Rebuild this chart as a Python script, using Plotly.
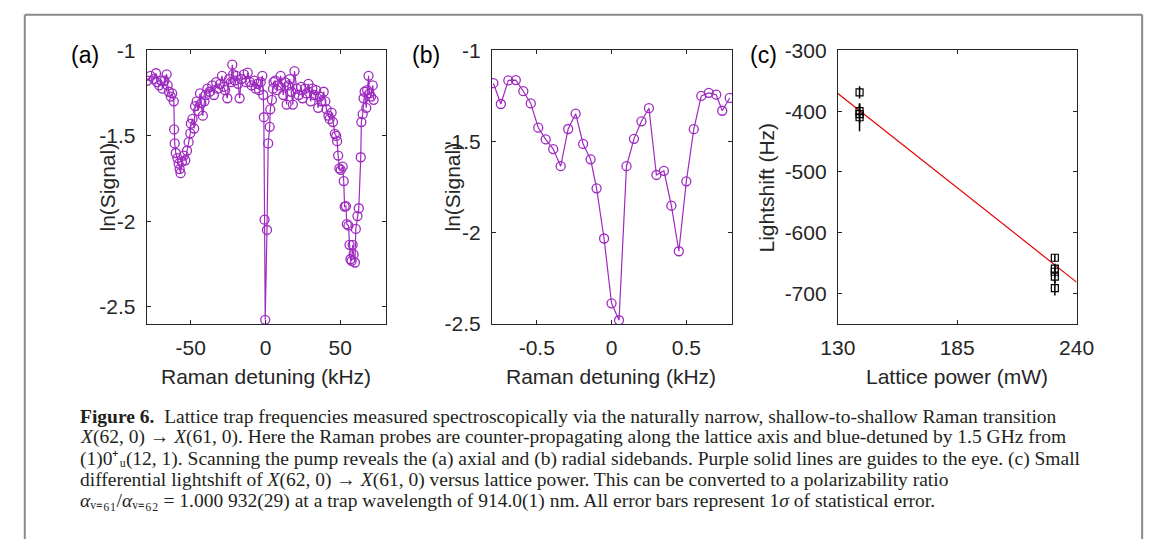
import plotly.graph_objects as go

# ---------------- data ----------------
# panel (a): axial sideband scan
a_detuning_khz = [-79.0, -76.9, -74.7, -73.2, -72.5, -71.0, -69.7, -68.9, -67.6, -66.1,
                  -65.4, -64.6, -63.3, -62.4, -61.3, -61.1, -60.7, -60.0, -58.9, -58.1,
                  -57.4, -56.8, -55.9, -54.6, -53.6, -52.5, -51.4, -50.3, -49.9, -48.8,
                  -47.7, -47.1, -46.0, -45.1, -43.8, -42.9, -41.9, -40.8, -40.0, -38.9,
                  -37.4, -35.6, -34.5, -33.0, -31.7, -30.2, -29.1, -28.0, -27.0, -25.5,
                  -24.4, -23.1, -22.2, -21.6, -20.5, -19.4, -18.3, -17.3, -16.2, -14.4,
                  -13.0, -11.9, -10.4, -9.3, -7.6, -6.5, -5.4, -4.3, -3.2, -2.1,
                  -1.5, -1.1, -0.6, -0.2, 1.0, 1.8, 2.8, 3.2, 4.3, 5.0,
                  5.4, 6.5, 7.6, 8.6, 10.1, 11.9, 13.0, 14.1, 15.1, 16.2,
                  17.3, 18.3, 19.4, 20.9, 22.2, 23.8, 24.8, 26.4, 27.4, 28.7,
                  30.2, 31.3, 32.4, 33.9, 35.2, 36.3, 37.4, 38.9, 40.0, 40.8,
                  42.1, 42.9, 44.2, 45.1, 46.4, 47.3, 47.9, 48.6, 49.4, 50.3,
                  51.6, 52.3, 52.9, 53.8, 54.4, 55.5, 56.2, 56.8, 57.6, 58.3,
                  58.9, 59.8, 60.4, 61.5, 62.4, 63.7, 64.1, 65.0, 65.6, 66.3,
                  67.4, 68.0, 68.9, 69.5, 70.6, 71.7, 72.3]
a_ln_signal = [-1.177, -1.149, -1.168, -1.134, -1.186, -1.205, -1.177, -1.224, -1.177, -1.140,
               -1.205, -1.242, -1.270, -1.252, -1.298, -1.462, -1.544, -1.600, -1.630, -1.662,
               -1.694, -1.718, -1.652, -1.615, -1.643, -1.587, -1.537, -1.485, -1.429, -1.401,
               -1.457, -1.326, -1.298, -1.354, -1.252, -1.308, -1.382, -1.298, -1.261, -1.224,
               -1.242, -1.205, -1.261, -1.186, -1.224, -1.196, -1.149, -1.214, -1.233, -1.280,
               -1.168, -1.186, -1.084, -1.140, -1.177, -1.149, -1.196, -1.280, -1.168, -1.140,
               -1.186, -1.130, -1.186, -1.205, -1.177, -1.224, -1.196, -1.233, -1.186, -1.149,
               -1.261, -1.391, -1.990, -2.575, -2.050, -1.544, -1.447, -1.345, -1.289, -1.224,
               -1.186, -1.177, -1.233, -1.205, -1.149, -1.261, -1.186, -1.317, -1.205, -1.168,
               -1.242, -1.317, -1.121, -1.224, -1.261, -1.214, -1.280, -1.224, -1.252, -1.196,
               -1.298, -1.224, -1.261, -1.233, -1.336, -1.270, -1.298, -1.242, -1.298, -1.345,
               -1.382, -1.401, -1.364, -1.419, -1.488, -1.500, -1.531, -1.615, -1.690, -1.699,
               -1.680, -1.764, -1.913, -1.910, -2.016, -2.025, -2.137, -2.221, -2.230, -2.137,
               -2.193, -2.240, -2.044, -1.969, -1.923, -1.625, -1.419, -1.373, -1.280, -1.242,
               -1.336, -1.233, -1.149, -1.252, -1.270, -1.205, -1.289]
a_x_ticks = [-50, 0, 50]
a_x_labels = ["-50", "0", "50"]

# panel (b): radial sideband scan
b_detuning_khz = [-0.79, -0.74, -0.69, -0.64, -0.59, -0.54, -0.49, -0.44, -0.39, -0.34,
                  -0.29, -0.24, -0.19, -0.14, -0.10, -0.05, 0.00, 0.05, 0.10, 0.15,
                  0.20, 0.25, 0.30, 0.35, 0.40, 0.45, 0.50, 0.55, 0.60, 0.65,
                  0.70, 0.74, 0.79]
b_ln_signal = [-1.180, -1.294, -1.165, -1.163, -1.224, -1.291, -1.424, -1.488, -1.541, -1.635,
               -1.431, -1.347, -1.513, -1.597, -1.756, -2.031, -2.386, -2.479, -1.635, -1.485,
               -1.389, -1.317, -1.683, -1.660, -1.851, -2.101, -1.718, -1.432, -1.250, -1.233,
               -1.243, -1.331, -1.261]
b_x_ticks = [-0.5, 0, 0.5]
b_x_labels = ["-0.5", "0", "0.5"]
ln_y_ticks = [-1, -1.5, -2, -2.5]
ln_y_labels = ["-1", "-1.5", "-2", "-2.5"]

# panel (c): lightshift vs lattice power
c_power_mw = [140, 140, 140, 140, 230, 230, 230, 230, 230]
c_shift_hz = [-369, -400, -405, -410, -641, -659, -664, -672, -691]
c_shift_err = [10, 12, 15, 23, 6, 8, 10, 10, 12]
c_fit_power = [130, 240]
c_fit_shift = [-371, -681]
c_x_ticks = [130, 185, 240]
c_x_labels = ["130", "185", "240"]
c_y_ticks = [-300, -400, -500, -600, -700]
c_y_labels = ["-300", "-400", "-500", "-600", "-700"]

# ---------------- layout helpers ----------------
W, H = 1165, 550
def fx(px):
    return px / W
def fy(py):
    return 1 - py / H

PURPLE = "rgb(158,42,192)"
AXC = "#262626"
SANS = "Liberation Sans, Arial, sans-serif"
TICKFONT = dict(family=SANS, size=21, color=AXC)

fig = go.Figure()

fig.add_trace(go.Scatter(x=a_detuning_khz, y=a_ln_signal, mode="lines+markers",
                         line=dict(color=PURPLE, width=1.2),
                         marker=dict(symbol="circle-open", size=9, color=PURPLE, line=dict(width=1.3)),
                         xaxis="x", yaxis="y", showlegend=False))
fig.add_trace(go.Scatter(x=b_detuning_khz, y=b_ln_signal, mode="lines+markers",
                         line=dict(color=PURPLE, width=1.2),
                         marker=dict(symbol="circle-open", size=9, color=PURPLE, line=dict(width=1.3)),
                         xaxis="x2", yaxis="y2", showlegend=False))
fig.add_trace(go.Scatter(x=c_fit_power, y=c_fit_shift, mode="lines",
                         line=dict(color="rgb(230,0,0)", width=1.2),
                         xaxis="x3", yaxis="y3", showlegend=False))
fig.add_trace(go.Scatter(x=c_power_mw, y=c_shift_hz, mode="markers",
                         error_y=dict(type="data", array=c_shift_err, color="black", thickness=1.5, width=0),
                         marker=dict(symbol="square-open", size=7, color="black", line=dict(width=1.2)),
                         xaxis="x3", yaxis="y3", showlegend=False))

def xax(domain, rng, ticks, labels, anchor):
    return dict(domain=domain, range=rng, tickvals=ticks, ticktext=labels, anchor=anchor,
                showline=True, linecolor=AXC, linewidth=1, mirror="ticks",
                ticks="inside", ticklen=4, tickcolor=AXC, tickwidth=1,
                showgrid=False, zeroline=False, tickfont=TICKFONT,
                ticklabelstandoff=5, fixedrange=True)

def yax(domain, rng, ticks, labels, anchor):
    return dict(domain=domain, range=rng, tickvals=ticks, ticktext=labels, anchor=anchor,
                showline=True, linecolor=AXC, linewidth=1, mirror="ticks",
                ticks="inside", ticklen=4, tickcolor=AXC, tickwidth=1,
                showgrid=False, zeroline=False, tickfont=TICKFONT,
                ticklabelstandoff=6, fixedrange=True)

ydom = [fy(325.7), fy(40)]
fig.update_layout(
    width=W, height=H, margin=dict(l=0, r=0, t=0, b=0), autosize=False,
    paper_bgcolor="white", plot_bgcolor="white",
    xaxis=xax([fx(132.7), fx(379.3)], [-79.5, 80.3], a_x_ticks, a_x_labels, "y"),
    yaxis=yax(ydom, [-2.6, -1], ln_y_ticks, ln_y_labels, "x"),
    xaxis2=xax([fx(489), fx(736.7)], [-0.8, 0.805], b_x_ticks, b_x_labels, "y2"),
    yaxis2=yax(ydom, [-2.5, -1], ln_y_ticks, ln_y_labels, "x2"),
    xaxis3=xax([fx(846), fx(1092.3)], [130, 240], c_x_ticks, c_x_labels, "y3"),
    yaxis3=yax(ydom, [-750, -300], c_y_ticks, c_y_labels, "x3"),
)

ann = []
def A(text, x, y, size=21, angle=0, xanchor="center", family=SANS, color=AXC):
    ann.append(dict(text=text, x=fx(x), y=fy(y), xref="paper", yref="paper", showarrow=False,
                    xanchor=xanchor, yanchor="middle", textangle=angle,
                    font=dict(family=family, size=size, color=color)))

A("(a)", 69, 45, size=23, color="black")
A("(b)", 421, 45, size=23, color="black")
A("(c)", 769, 45, size=23, color="black")
A("Raman detuning (kHz)", 256, 380)
A("Raman detuning (kHz)", 612, 380)
A("Lattice power (mW)", 969, 380)
A("ln(Signal)", 92, 183, angle=-90)
A("ln(Signal)", 448, 183, angle=-90)
A("Lightshift (Hz)", 772, 183, angle=-90)

SERIF = "Liberation Serif, Times New Roman, serif"
cap_lines = [
    "<b>Figure 6.</b>  Lattice trap frequencies measured spectroscopically via the naturally narrow, shallow-to-shallow Raman transition",
    "<i>X</i>(62, 0) → <i>X</i>(61, 0). Here the Raman probes are counter-propagating along the lattice axis and blue-detuned by 1.5 GHz from",
    "(1)0⁺ᵤ(12, 1). Scanning the pump reveals the (a) axial and (b) radial sidebands. Purple solid lines are guides to the eye. (c) Small",
    "differential lightshift of <i>X</i>(62, 0) → <i>X</i>(61, 0) versus lattice power. This can be converted to a polarizability ratio",
    "<i>α</i>ᵥ₌₆₁/<i>α</i>ᵥ₌₆₂ = 1.000 932(29) at a trap wavelength of 914.0(1) nm. All error bars represent 1<i>σ</i> of statistical error.",
]
for i, t in enumerate(cap_lines):
    A(t, 62, 422 + 22 * i, size=19.5, xanchor="left", family=SERIF, color="#231f20")

fig.update_layout(annotations=ann)

# outer frame (left, top, right edges)
BORDER = dict(color="#8a8a8a", width=2)
fig.add_shape(type="line", xref="paper", yref="paper", x0=fx(7), x1=fx(7), y0=0, y1=fy(3), line=BORDER)
fig.add_shape(type="line", xref="paper", yref="paper", x0=fx(1160), x1=fx(1160), y0=0, y1=fy(3), line=BORDER)
fig.add_shape(type="line", xref="paper", yref="paper", x0=fx(7), x1=fx(1160), y0=fy(3), y1=fy(3), line=BORDER)

fig.write_html("out.html", config={"displayModeBar": False, "staticPlot": True},
               post_script="document.body.style.margin='0px';"
                           "document.body.style.overflow='hidden';"
                           "document.documentElement.style.overflow='hidden';")
